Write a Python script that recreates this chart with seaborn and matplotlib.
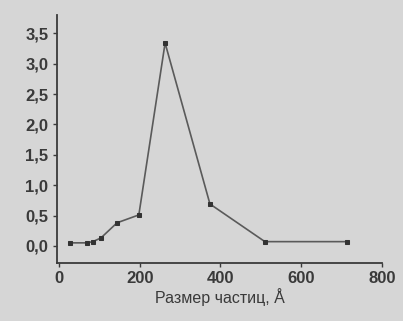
import matplotlib
matplotlib.use('Agg')
import matplotlib.pyplot as plt
import seaborn as sns
import pandas as pd
from matplotlib.ticker import FuncFormatter

# particle size (angstrom) and distribution value
size = [27, 70, 84, 104, 144, 198, 263, 374, 510, 713]
value = [0.05, 0.05, 0.07, 0.13, 0.38, 0.51, 3.34, 0.69, 0.07, 0.07]

x_ticks = [0, 200, 400, 600, 800]
y_ticks = [0.0, 0.5, 1.0, 1.5, 2.0, 2.5, 3.0, 3.5]

df = pd.DataFrame({'size': size, 'value': value})

sns.set_style('ticks')
plt.rcParams['font.family'] = ['Liberation Sans', 'DejaVu Sans']

bg = '#d6d6d6'
ink = '#3a3a3a'

fig = plt.figure(figsize=(4.03, 3.21), dpi=100, facecolor=bg)
ax = fig.add_axes([0.141, 0.181, 0.807, 0.772], facecolor=bg)

sns.lineplot(data=df, x='size', y='value', ax=ax, color='#5a5a5a', linewidth=1.2,
             marker='s', markersize=3.5, markerfacecolor='#333333',
             markeredgecolor='#333333')

ax.set_xlim(-5, 800)
ax.set_ylim(-0.28, 3.8)
ax.set_xticks(x_ticks)
ax.set_yticks(y_ticks)
ax.yaxis.set_major_formatter(FuncFormatter(lambda v, p: f'{v:.1f}'.replace('.', ',')))

sns.despine(ax=ax)
for s in ['left', 'bottom']:
    ax.spines[s].set_color(ink)
    ax.spines[s].set_linewidth(1.3)
ax.tick_params(colors=ink, labelsize=12, length=3, width=1, pad=3)
for lab in ax.get_xticklabels() + ax.get_yticklabels():
    lab.set_fontweight('bold')

ax.set_xlabel('Размер частиц, Å', fontsize=11.5, color=ink, labelpad=1)
ax.set_ylabel('')

fig.savefig('out.png', dpi=100, facecolor=bg)
